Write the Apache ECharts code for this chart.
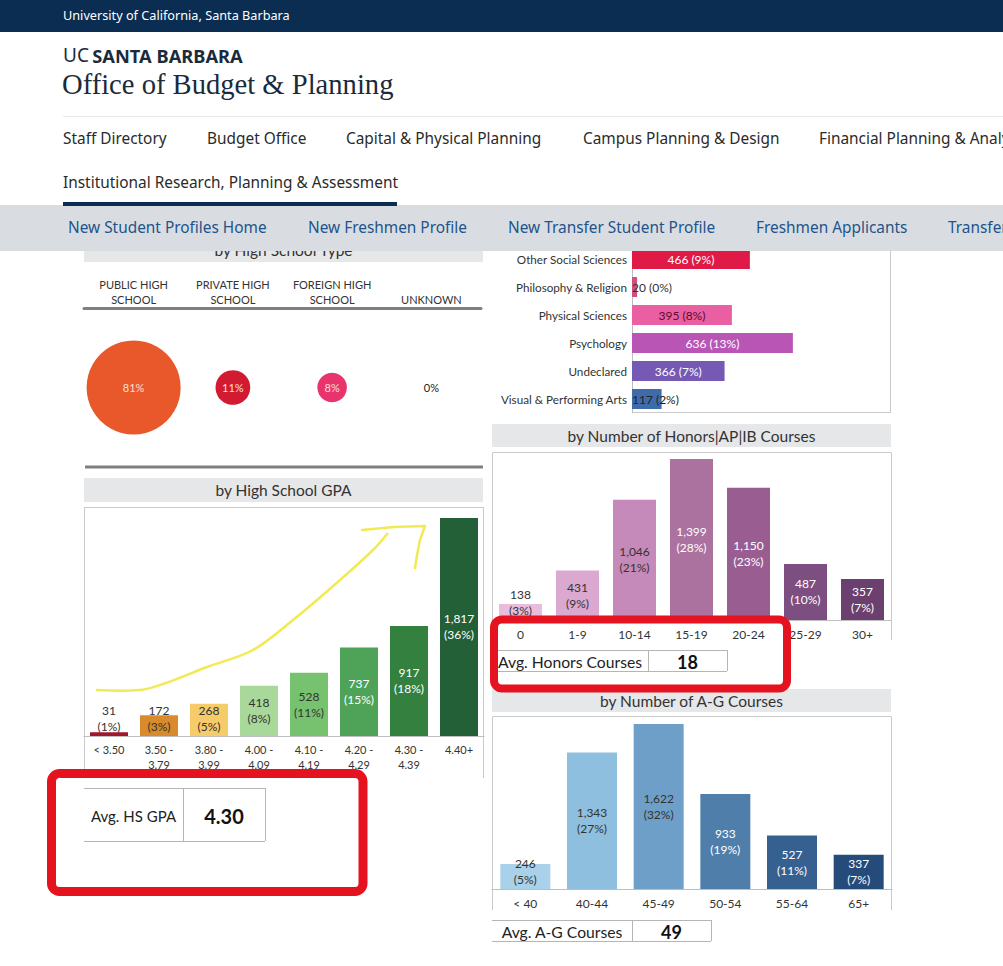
<!DOCTYPE html>
<html>
<head>
<meta charset="utf-8">
<title>UCSB New Freshmen Profile</title>
<script src="https://cdn.jsdelivr.net/npm/echarts@6/dist/echarts.min.js"></script>
<style>
  html, body { margin: 0; background: #fff; }
  #container { width: 1003px; height: 966px; }
</style>
</head>
<body>
<div id="container"></div>
<script>
// ---- data ----
const schoolTypes = ['PUBLIC HIGH\nSCHOOL', 'PRIVATE HIGH\nSCHOOL', 'FOREIGN HIGH\nSCHOOL', 'UNKNOWN'];
const schoolTypePct = [81, 11, 8, 0];

const majors = ['Other Social Sciences', 'Philosophy & Religion', 'Physical Sciences', 'Psychology', 'Undeclared', 'Visual & Performing Arts'];
const majorCounts = [466, 20, 395, 636, 366, 117];
const majorPct = [9, 0, 8, 13, 7, 2];

const gpaBins = ['< 3.50', '3.50 -\n3.79', '3.80 -\n3.99', '4.00 -\n4.09', '4.10 -\n4.19', '4.20 -\n4.29', '4.30 -\n4.39', '4.40+'];
const gpaCounts = [31, 172, 268, 418, 528, 737, 917, 1817];
const gpaPct = [1, 3, 5, 8, 11, 15, 18, 36];

const honorsBins = ['0', '1-9', '10-14', '15-19', '20-24', '25-29', '30+'];
const honorsCounts = [138, 431, 1046, 1399, 1150, 487, 357];
const honorsPct = [3, 9, 21, 28, 23, 10, 7];

const agBins = ['< 40', '40-44', '45-49', '50-54', '55-64', '65+'];
const agCounts = [246, 1343, 1622, 933, 527, 337];
const agPct = [5, 27, 32, 19, 11, 7];

const avgGpa = '4.30';
const avgHonors = '18';
const avgAG = '49';

// ---- colours ----
const schoolColors = ['#e9582a', '#d21a30', '#e8336c', '#ffffff'];
const majorColors = ['#e01a47', '#d0507c', '#ea5fa2', '#b955b5', '#7659b4', '#3f6bab'];
const majorLabelColors = ['#fff', '#333', '#5a0a2a', '#fff', '#fff', '#222'];
const gpaColors = ['#a3172e', '#d98b2b', '#f6cb6a', '#a8d99a', '#76c26e', '#4fa358', '#34813f', '#235f37'];
const gpaLabelColors = ['#333', '#333', '#333', '#333', '#333', '#fff', '#fff', '#fff'];
const honorsColors = ['#e9bcdb', '#dba8cf', '#c58ab9', '#ab719f', '#9a5d92', '#7d4e80', '#6b3f6e'];
const honorsLabelColors = ['#333', '#333', '#333', '#fff', '#fff', '#fff', '#fff'];
const agColors = ['#a9d1ea', '#8fbfdf', '#6e9fc8', '#4f7eab', '#35608f', '#244b7a'];
const agLabelColors = ['#333', '#333', '#333', '#fff', '#fff', '#fff'];

const NAVY = '#0b2d52';
const CHART_FONT = 'Lato';
const fmt = n => n.toLocaleString('en-US');

function barItems(counts, pct, colors, labelColors, smallIdx) {
    return counts.map((v, i) => ({
        value: v,
        itemStyle: { color: colors[i] },
        label: {
            color: labelColors[i],
            position: smallIdx.includes(i) ? 'insideBottom' : 'inside',
            distance: 2,
            formatter: fmt(v) + '\n(' + pct[i] + '%)'
        }
    }));
}

// ---- page decoration (header, nav, panel frames) ----
const g = [];
function rect(x, y, w, h, fill, z) {
    g.push({ type: 'rect', z: z || 0, shape: { x, y, width: w, height: h }, style: { fill } });
}
function line(x1, y1, x2, y2, stroke, w, z) {
    g.push({ type: 'line', z: z || 0, shape: { x1, y1, x2, y2 }, style: { stroke, lineWidth: w || 1 } });
}
function text(x, y, str, font, fill, align, z) {
    g.push({ type: 'text', z: z || 1, x, y, style: { text: str, font, fill, textAlign: align || 'left', textVerticalAlign: 'middle' } });
}

// panel title bars
function titleBar(x, y, w, h, str) {
    rect(x, y, w, h, '#e6e7e9', 0);
    text(x + w / 2, y + h / 2, str, '15.5px ' + CHART_FONT, '#333', 'center', 1);
}
titleBar(84, 238, 399, 24, 'by High School Type');
titleBar(84, 478, 399, 24, 'by High School GPA');
titleBar(492, 424, 399, 23, 'by Number of Honors|AP|IB Courses');
titleBar(492, 689, 399, 23, 'by Number of A-G Courses');

// chart frames
const frame = '#c9c9c9';
line(890.5, 251, 890.5, 412.5, frame);
line(632, 412.5, 891, 412.5, frame);
line(84.5, 507.5, 483.5, 507.5, frame);
line(84.5, 507.5, 84.5, 778, frame);
line(483.5, 507.5, 483.5, 778, frame);
line(492.5, 452.5, 891.5, 452.5, frame);
line(492.5, 452.5, 492.5, 640, frame);
line(891.5, 452.5, 891.5, 640, frame);
line(492.5, 716.5, 891.5, 716.5, frame);
line(492.5, 716.5, 492.5, 910, frame);
line(891.5, 716.5, 891.5, 910, frame);
// school type bottom separator
line(85, 467, 483, 467, '#7f7f7f', 3);

// average tables
function avgTable(x, y, w1, w2, h, label, value, labelSize, valueSize) {
    const c = '#b5b5b5';
    line(x, y + 0.5, x + w1 + w2, y + 0.5, c, 1, 3);
    line(x, y + h + 0.5, x + w1 + w2, y + h + 0.5, c, 1, 3);
    line(x + w1 + 0.5, y, x + w1 + 0.5, y + h, c, 1, 3);
    line(x + w1 + w2 + 0.5, y, x + w1 + w2 + 0.5, y + h, c, 1, 3);
    text(x + w1 / 2, y + h / 2 + 1, label, labelSize + 'px ' + CHART_FONT, '#222', 'center', 4);
    text(x + w1 + w2 / 2, y + h / 2 + 1, value, 'bold ' + valueSize + 'px ' + CHART_FONT, '#111', 'center', 4);
}
avgTable(84, 788, 99, 82, 53, 'Avg. HS GPA', avgGpa, 15, 20);
avgTable(492, 650, 156, 79, 21, 'Avg. Honors Courses', avgHonors, 15.7, 18);
avgTable(492, 920, 140, 79, 21, 'Avg. A-G Courses', avgAG, 15.7, 18);

// hand-drawn highlight marks (annotation overlay)
g.push({ type: 'polyline', z: 50, shape: { smooth: 0.35, points: [[96, 690], [140, 690], [163, 684], [207, 667], [253, 650], [293, 620], [340, 580], [373, 550], [388, 533]] },
         style: { stroke: '#f2ea55', lineWidth: 2.5, fill: null } });
g.push({ type: 'polyline', z: 50, shape: { points: [[362, 530], [394, 527], [425, 526], [420, 540], [417, 555], [415, 568]] },
         style: { stroke: '#f2ea55', lineWidth: 2.5, fill: null, lineJoin: 'round', lineCap: 'round' } });
g.push({ type: 'rect', z: 60, shape: { x: 51.5, y: 773.5, width: 311.5, height: 118, r: 8 }, style: { fill: null, stroke: '#e5121f', lineWidth: 9 } });
g.push({ type: 'rect', z: 60, shape: { x: 494, y: 619.5, width: 293, height: 69, r: 8 }, style: { fill: null, stroke: '#e5121f', lineWidth: 8 } });

// site header (drawn above the charts so it clips the scrolled panels)
const NAV_Z = 100;
rect(0, 0, 1003, 205, '#fff', NAV_Z);
rect(0, 0, 1003, 32, NAVY, NAV_Z);
text(63, 15, 'University of California, Santa Barbara', '12.7px "Noto Sans"', '#fff', 'left', NAV_Z + 1);
g.push({ type: 'text', z: NAV_Z + 1, x: 63, y: 55, style: {
    text: '{a|UC} {b|SANTA BARBARA}', textVerticalAlign: 'middle', fill: NAVY,
    rich: { a: { font: '19px "Noto Sans"', fill: '#1b2b3b' }, b: { font: 'bold 18.3px "Noto Sans"', fill: '#1b2b3b' } } } });
text(62, 84, 'Office of Budget & Planning', '28.6px "Liberation Serif"', '#1b2b3b', 'left', NAV_Z + 1);
line(63, 116.5, 1003, 116.5, '#e8e8e8', 1, NAV_Z + 1);
const navFont = '15.4px "Noto Sans"';
[['Staff Directory', 63], ['Budget Office', 207], ['Capital & Physical Planning', 346], ['Campus Planning & Design', 583], ['Financial Planning & Analysis', 819]]
    .forEach(d => text(d[1], 138, d[0], navFont, '#2a2a2a', 'left', NAV_Z + 1));
text(63, 182, 'Institutional Research, Planning & Assessment', navFont, '#2a2a2a', 'left', NAV_Z + 1);
rect(63, 202, 334, 4, NAVY, NAV_Z + 2);
rect(0, 205, 1003, 46, '#d9dde2', NAV_Z);
[['New Student Profiles Home', 68], ['New Freshmen Profile', 308], ['New Transfer Student Profile', 508], ['Freshmen Applicants', 756], ['Transfer Applicants', 948]]
    .forEach(d => text(d[1], 227, d[0], navFont, '#22538a', 'left', NAV_Z + 1));

// ---- chart ----
const chart = echarts.init(document.getElementById('container'), null, { renderer: 'svg' });

const catAxisLabel = { color: '#333', fontSize: 11, fontFamily: CHART_FONT, lineHeight: 15 };
const baseAxisLine = { lineStyle: { color: '#bdbdbd' } };
const baseTick = { length: 4, lineStyle: { color: '#bdbdbd' } };

chart.setOption({
    animation: false,
    textStyle: { fontFamily: CHART_FONT },
    grid: [
        { left: 632, top: 245, width: 258, height: 168 },   // majors
        { left: 84, top: 508, width: 400, height: 228 },    // GPA
        { left: 492, top: 452, width: 399, height: 168 },   // honors
        { left: 492, top: 716, width: 400, height: 173 },   // A-G
        { left: 84, top: 308, width: 397, height: 159 }     // school type
    ],
    xAxis: [
        { gridIndex: 0, type: 'value', min: 0, max: 1020, show: false },
        { gridIndex: 1, type: 'category', data: gpaBins, axisLine: baseAxisLine, axisTick: baseTick,
          axisLabel: Object.assign({ margin: 6, interval: 0 }, catAxisLabel) },
        { gridIndex: 2, type: 'category', data: honorsBins, axisLine: baseAxisLine, axisTick: baseTick,
          axisLabel: { margin: 8, interval: 0, fontSize: 12, color: '#333', fontFamily: CHART_FONT } },
        { gridIndex: 3, type: 'category', data: agBins, axisLine: baseAxisLine, axisTick: baseTick,
          axisLabel: { margin: 8, interval: 0, fontSize: 12, color: '#333', fontFamily: CHART_FONT } },
        { gridIndex: 4, type: 'category', data: schoolTypes, position: 'top',
          axisLine: { onZero: false, lineStyle: { color: '#7f7f7f', width: 3 } }, axisTick: { show: false },
          axisLabel: Object.assign({ margin: 1, interval: 0 }, catAxisLabel) }
    ],
    yAxis: [
        { gridIndex: 0, type: 'category', data: majors, inverse: true,
          axisLine: baseAxisLine, axisTick: { show: false },
          axisLabel: { margin: 5, color: '#333', fontSize: 11.7, fontFamily: CHART_FONT } },
        { gridIndex: 1, type: 'value', min: 0, max: 1900, show: false },
        { gridIndex: 2, type: 'value', min: 0, max: 1460, show: false },
        { gridIndex: 3, type: 'value', min: 0, max: 1701, show: false },
        { gridIndex: 4, type: 'value', min: -1, max: 1, show: false }
    ],
    series: [
        { type: 'bar', xAxisIndex: 0, yAxisIndex: 0, barWidth: 20,
          data: majorCounts.map((v, i) => ({
              value: v, itemStyle: { color: majorColors[i] },
              label: { show: true, color: majorLabelColors[i], fontSize: 12, fontFamily: CHART_FONT,
                       position: v < 150 ? 'insideLeft' : 'inside', distance: 0,
                       formatter: fmt(v) + ' (' + majorPct[i] + '%)' }
          })) },
        { type: 'bar', xAxisIndex: 1, yAxisIndex: 1, barWidth: 38,
          label: { show: true, fontSize: 12, lineHeight: 16 },
          data: barItems(gpaCounts, gpaPct, gpaColors, gpaLabelColors, [0, 1, 2]) },
        { type: 'bar', xAxisIndex: 2, yAxisIndex: 2, barWidth: 43,
          label: { show: true, fontSize: 12, lineHeight: 16 },
          data: barItems(honorsCounts, honorsPct, honorsColors, honorsLabelColors, [0]) },
        { type: 'bar', xAxisIndex: 3, yAxisIndex: 3, barWidth: 50,
          label: { show: true, fontSize: 12, lineHeight: 16 },
          data: barItems(agCounts, agPct, agColors, agLabelColors, [0]) },
        { type: 'scatter', xAxisIndex: 4, yAxisIndex: 4,
          data: schoolTypePct.map((p, i) => ({
              value: [i, 0],
              symbolSize: Math.max(10.45 * Math.sqrt(p), 0.01),
              itemStyle: { color: schoolColors[i], opacity: 1 },
              label: { show: true, position: 'inside', fontSize: 11, fontFamily: CHART_FONT,
                       color: p > 0 ? '#fbe0d2' : '#222', formatter: p + '%' }
          })) }
    ],
    graphic: { elements: g }
});
</script>
</body>
</html>
